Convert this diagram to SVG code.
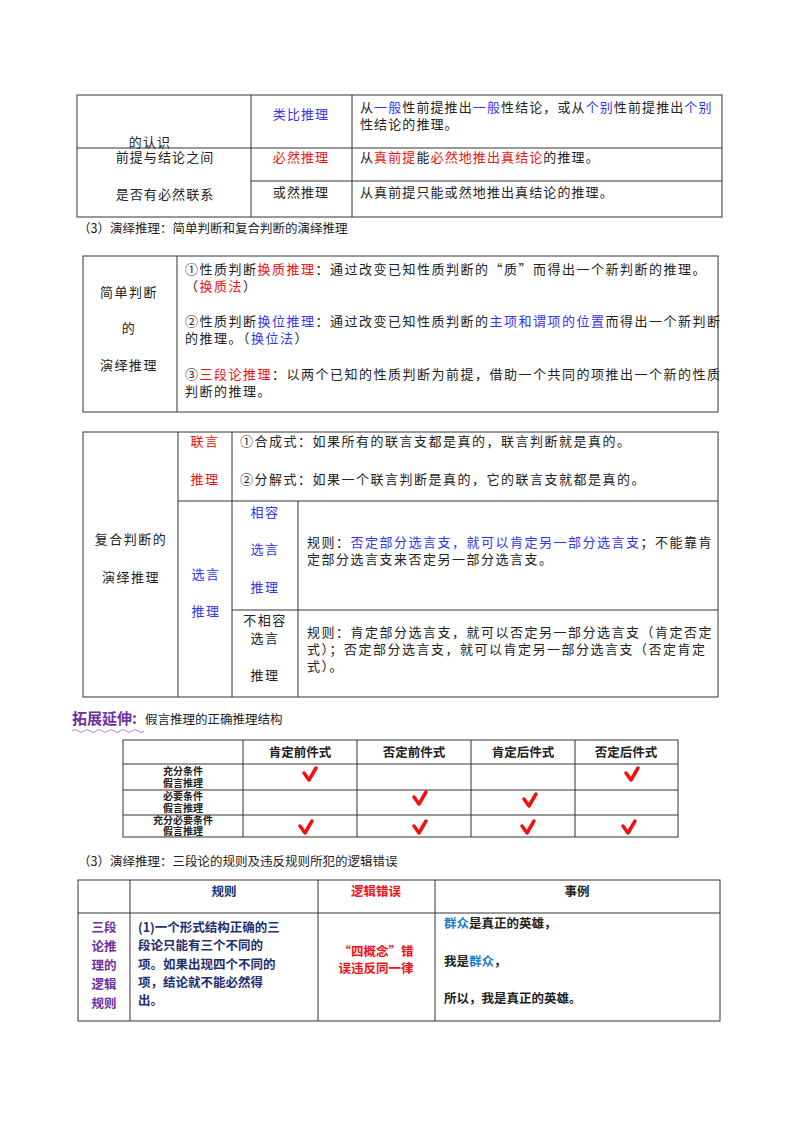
<svg xmlns="http://www.w3.org/2000/svg" width="800" height="1132" viewBox="0 0 800 1132">
<style>
text{font-family:"Noto Sans CJK SC",sans-serif;font-size:12.5px;fill:#222}
.sp text{font-size:13px;letter-spacing:1.5px}
#table1 text{letter-spacing:1.1px}
.c{text-anchor:middle}
.b{fill:#3333ee}.r{fill:#ee1111}
.bd{font-weight:bold}
.g line{stroke:#333;stroke-width:1}
.box{fill:none;stroke:#333;stroke-width:1}
.ck{fill:none;stroke:#ee1111;stroke-width:3.5;stroke-linecap:round;stroke-linejoin:round}
.lb{font-size:10px;font-weight:bold}
</style>
<rect width="800" height="1132" fill="#fff"/>

<g id="table1" class="sp">
<rect class="box" x="77" y="95" width="645" height="122"/>
<g class="g"><line x1="251" y1="95" x2="251" y2="217"/><line x1="352" y1="95" x2="352" y2="217"/>
<line x1="77" y1="148" x2="722" y2="148"/><line x1="251" y1="181" x2="722" y2="181"/></g>
<text x="150" y="147" class="c">的认识</text>
<text x="165" y="162" class="c">前提与结论之间</text>
<text x="165" y="199" class="c">是否有必然联系</text>
<text x="301" y="119" class="c b">类比推理</text>
<text x="360" y="112">从<tspan class="b">一般</tspan>性前提推出<tspan class="b">一般</tspan>性结论，或从<tspan class="b">个别</tspan>性前提推出<tspan class="b">个别</tspan></text>
<text x="360" y="129">性结论的推理。</text>
<text x="301" y="162" class="c r">必然推理</text>
<text x="360" y="162">从<tspan class="r">真前提</tspan>能<tspan class="r">必然地推出真结论</tspan>的推理。</text>
<text x="301" y="197" class="c">或然推理</text>
<text x="360" y="197">从真前提只能或然地推出真结论的推理。</text>
</g>
<text x="78" y="233">（3）演绎推理：简单判断和复合判断的演绎推理</text>

<g id="table2" class="sp">
<rect class="box" x="83" y="256" width="635" height="156"/>
<g class="g"><line x1="177" y1="256" x2="177" y2="412"/></g>
<text x="129" y="297" class="c">简单判断</text>
<text x="129" y="333" class="c">的</text>
<text x="129" y="370" class="c">演绎推理</text>
<text x="185" y="274">①性质判断<tspan class="r">换质推理</tspan>：通过改变已知性质判断的“质”而得出一个新判断的推理。</text>
<text x="185" y="291">（<tspan class="r">换质法</tspan>）</text>
<text x="185" y="326">②性质判断<tspan class="b">换位推理</tspan>：通过改变已知性质判断的<tspan class="b">主项和谓项的位置</tspan>而得出一个新判断</text>
<text x="185" y="343">的推理。（<tspan class="b">换位法</tspan>）</text>
<text x="185" y="379">③<tspan class="r">三段论推理</tspan>：以两个已知的性质判断为前提，借助一个共同的项推出一个新的性质</text>
<text x="185" y="396">判断的推理。</text>
</g>

<g id="table3" class="sp">
<rect class="box" x="83" y="432" width="635" height="265"/>
<g class="g"><line x1="178" y1="432" x2="178" y2="697"/><line x1="232" y1="432" x2="232" y2="697"/>
<line x1="178" y1="501" x2="718" y2="501"/><line x1="298" y1="501" x2="298" y2="697"/>
<line x1="232" y1="610" x2="718" y2="610"/></g>
<text x="205" y="446" class="c r">联言</text>
<text x="205" y="484" class="c r">推理</text>
<text x="240" y="446">①合成式：如果所有的联言支都是真的，联言判断就是真的。</text>
<text x="240" y="484">②分解式：如果一个联言判断是真的，它的联言支就都是真的。</text>
<text x="131" y="544" class="c">复合判断的</text>
<text x="131" y="582" class="c">演绎推理</text>
<text x="206" y="579" class="c b">选言</text>
<text x="206" y="616" class="c b">推理</text>
<text x="265" y="517" class="c b">相容</text>
<text x="265" y="554" class="c b">选言</text>
<text x="265" y="592" class="c b">推理</text>
<text x="307" y="547">规则：<tspan class="b">否定部分选言支，就可以肯定另一部分选言支</tspan>；不能靠肯</text>
<text x="307" y="564">定部分选言支来否定另一部分选言支。</text>
<text x="265" y="625" class="c">不相容</text>
<text x="265" y="643" class="c">选言</text>
<text x="265" y="680" class="c">推理</text>
<text x="307" y="637">规则：肯定部分选言支，就可以否定另一部分选言支（肯定否定</text>
<text x="307" y="654">式）；否定部分选言支，就可以肯定另一部分选言支（否定肯定</text>
<text x="307" y="671">式）。</text>
</g>

<g id="heading">
<text x="72" y="724" style="font-size:15px;font-weight:bold;fill:#7030a0">拓展延伸:</text>
<text x="145" y="724">假言推理的正确推理结构</text>
<path d="M72 731 q3 -3 6 0 t6 0 t6 0 t6 0 t6 0 t6 0 t6 0 t6 0 t6 0 t6 0 t6 0 t6 0" fill="none" stroke="#b080e0" stroke-width="1"/>
</g>

<g id="table4">
<rect class="box" x="123" y="740" width="555" height="97"/>
<g class="g"><line x1="243" y1="740" x2="243" y2="837"/><line x1="357" y1="740" x2="357" y2="837"/><line x1="471" y1="740" x2="471" y2="837"/><line x1="575" y1="740" x2="575" y2="837"/>
<line x1="123" y1="764" x2="678" y2="764"/><line x1="123" y1="790" x2="678" y2="790"/><line x1="123" y1="815" x2="678" y2="815"/></g>
<text x="300" y="757" class="c bd">肯定前件式</text><text x="414" y="757" class="c bd">否定前件式</text><text x="523" y="757" class="c bd">肯定后件式</text><text x="626" y="757" class="c bd">否定后件式</text>
<text x="183" y="775" class="c lb">充分条件</text><text x="183" y="787" class="c lb">假言推理</text>
<text x="183" y="800" class="c lb">必要条件</text><text x="183" y="812" class="c lb">假言推理</text>
<text x="183" y="824" class="c lb">充分必要条件</text><text x="183" y="835" class="c lb">假言推理</text>
<path class="ck" d="M304 773 l5 7 l7 -12"/>
<path class="ck" d="M626 773 l5 7 l7 -12"/>
<path class="ck" d="M414 797 l5 7 l7 -12"/>
<path class="ck" d="M524 799 l5 7 l7 -12"/>
<path class="ck" d="M300 826 l5 7 l7 -12"/>
<path class="ck" d="M414 826 l5 7 l7 -12"/>
<path class="ck" d="M522 826 l5 7 l7 -12"/>
<path class="ck" d="M623 826 l5 7 l7 -12"/>
</g>
<text x="78" y="866">（3）演绎推理：三段论的规则及违反规则所犯的逻辑错误</text>

<g id="table5">
<rect class="box" x="78" y="880" width="642" height="141"/>
<g class="g"><line x1="130" y1="880" x2="130" y2="1021"/><line x1="318" y1="880" x2="318" y2="1021"/><line x1="435" y1="880" x2="435" y2="1021"/>
<line x1="78" y1="913" x2="720" y2="913"/></g>
<text x="224" y="896" class="c bd" style="fill:#1f2f6f">规则</text>
<text x="376" y="896" class="c bd r">逻辑错误</text>
<text x="577" y="896" class="c bd">事例</text>
<text x="104" y="932" class="c bd" style="fill:#7030a0">三段</text><text x="104" y="951" class="c bd" style="fill:#7030a0">论推</text><text x="104" y="970" class="c bd" style="fill:#7030a0">理的</text><text x="104" y="989" class="c bd" style="fill:#7030a0">逻辑</text><text x="104" y="1008" class="c bd" style="fill:#7030a0">规则</text>
<text x="138" y="932" class="bd" style="fill:#1f2f6f">(1)一个形式结构正确的三</text>
<text x="138" y="950" class="bd" style="fill:#1f2f6f">段论只能有三个不同的</text>
<text x="138" y="969" class="bd" style="fill:#1f2f6f">项。如果出现四个不同的</text>
<text x="138" y="987" class="bd" style="fill:#1f2f6f">项，结论就不能必然得</text>
<text x="138" y="1005" class="bd" style="fill:#1f2f6f">出。</text>
<text x="376" y="956" class="c bd r">“四概念”错</text>
<text x="376" y="973" class="c bd r">误违反同一律</text>
<text x="444" y="928" class="bd"><tspan style="fill:#1a7fd0">群众</tspan>是真正的英雄，</text>
<text x="444" y="966" class="bd">我是<tspan style="fill:#1a7fd0">群众</tspan>，</text>
<text x="444" y="1003" class="bd">所以，我是真正的英雄。</text>
</g>
</svg>
